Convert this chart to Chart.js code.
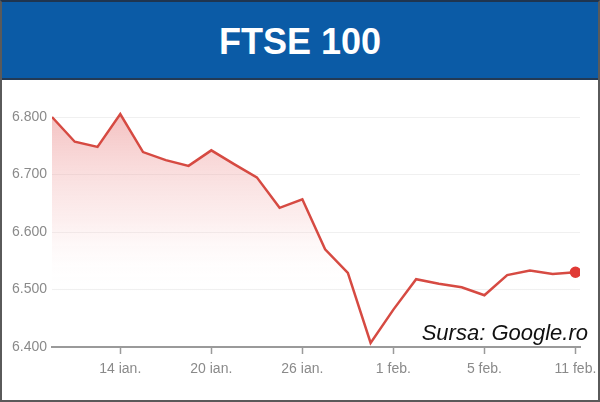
<!DOCTYPE html>
<html>
<head>
<meta charset="utf-8">
<script src="https://cdn.jsdelivr.net/npm/chart.js@4/dist/chart.umd.min.js"></script>
<style>
  html, body { margin: 0; padding: 0; background: #fff; }
  #frame {
    position: relative; width: 596px; height: 398px;
    border: 2px solid #5a5a5a; border-top-color: #1f3550; overflow: hidden;
  }
  #header {
    height: 76px; background: #0b5ba6; border-bottom: 2px solid #233a55;
    color: #fff; font: bold 36px "Liberation Sans", Arial, sans-serif;
    text-align: center; line-height: 80px;
  }
  #wrap { position: absolute; left: 0; top: 78px; width: 596px; height: 320px; }
  #sursa {
    position: absolute; right: 10px; top: 318px;
    font: italic 22px "Liberation Sans", Arial, sans-serif; color: #111;
  }
</style>
</head>
<body>
<div id="frame">
  <div id="header">FTSE 100</div>
  <div id="wrap"><canvas id="ftse"></canvas></div>
  <div id="sursa">Sursa: Google.ro</div>
</div>
<script>
// valori de inchidere
const zile = ['9 ian.', '10 ian.', '13 ian.', '14 ian.', '15 ian.', '16 ian.', '17 ian.', '20 ian.',
  '21 ian.', '22 ian.', '23 ian.', '26 ian.', '27 ian.', '28 ian.', '29 ian.', '1 feb.',
  '2 feb.', '3 feb.', '4 feb.', '5 feb.', '8 feb.', '9 feb.', '10 feb.', '11 feb.'];
const valori = [6800, 6757, 6748, 6805, 6739, 6725, 6715, 6742, 6718, 6695, 6642, 6657,
  6570, 6529, 6407, 6465, 6518, 6510, 6504, 6490, 6525, 6533, 6527, 6530];
const etichetePozitii = [3, 7, 11, 15, 19, 23];
const ticksY = [6400, 6500, 6600, 6700, 6800];

const fontAxa = { family: '"Liberation Sans Narrow", "Liberation Sans", Arial, sans-serif', size: 14 };
const ultim = valori.length - 1;

const ctx = document.getElementById('ftse').getContext('2d');

const grafic = new Chart(ctx, {
  type: 'line',
  data: {
    datasets: [{
      data: valori.map((v, i) => ({ x: i, y: v })),
      borderColor: '#d64a42',
      borderWidth: 2.5,
      tension: 0,
      fill: 'start',
      backgroundColor: (c) => {
        const area = c.chart.chartArea;
        if (!area) return 'rgba(240,180,180,0.4)';
        const g = c.chart.ctx.createLinearGradient(0, area.top, 0, area.bottom);
        g.addColorStop(0, 'rgba(230,120,120,0.55)');
        g.addColorStop(0.5, 'rgba(245,190,190,0.25)');
        g.addColorStop(0.78, 'rgba(255,255,255,0)');
        g.addColorStop(1, 'rgba(255,255,255,0)');
        return g;
      },
      pointRadius: (c) => c.dataIndex === ultim ? 4.5 : 0,
      pointBackgroundColor: '#e03a35',
      pointBorderColor: '#e03a35',
      pointHoverRadius: 0
    }]
  },
  options: {
    responsive: true,
    maintainAspectRatio: false,
    animation: false,
    layout: { padding: { top: 14, right: 18, left: 0, bottom: 0 } },
    plugins: {
      legend: { display: false },
      tooltip: { enabled: false }
    },
    scales: {
      x: {
        type: 'linear',
        min: 0,
        max: 23.2,
        afterBuildTicks: (s) => { s.ticks = etichetePozitii.map(v => ({ value: v })); },
        afterFit: (s) => { s.height = 53; s.paddingLeft = 0; s.paddingRight = 0; },
        ticks: {
          color: '#8a8a8a',
          font: fontAxa,
          padding: 7,
          maxRotation: 0,
          callback: (v) => zile[v]
        },
        grid: {
          drawOnChartArea: false,
          drawTicks: true,
          tickLength: 7,
          tickWidth: 1.5,
          tickColor: '#9a9a9a'
        },
        border: { display: true, color: '#9a9a9a', width: 2 }
      },
      y: {
        min: 6400,
        max: 6840,
        afterBuildTicks: (s) => { s.ticks = ticksY.map(v => ({ value: v })); },
        afterFit: (s) => { s.width = 50; },
        ticks: {
          color: '#8a8a8a',
          font: fontAxa,
          padding: 5,
          callback: (v) => (v / 1000).toFixed(3)
        },
        grid: { color: '#f0f0f0', drawTicks: false },
        border: { display: false }
      }
    }
  }
});
</script>
</body>
</html>
